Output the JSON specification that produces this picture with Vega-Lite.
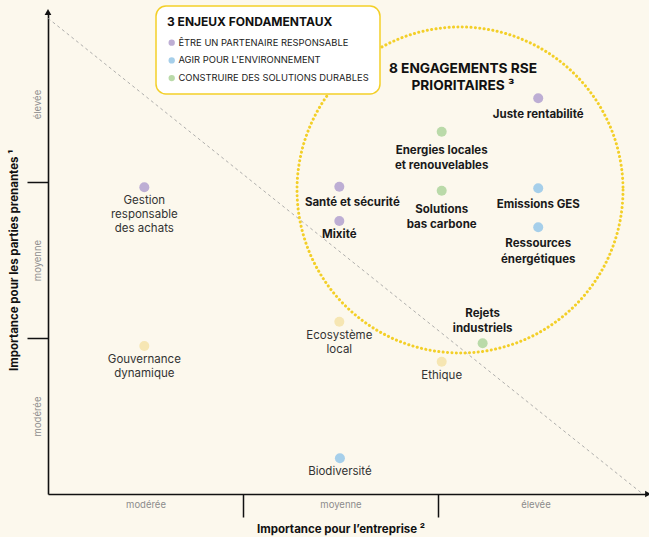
{
  "$schema": "https://vega.github.io/schema/vega-lite/v6.json",
  "width": 600,
  "height": 482,
  "autosize": {"type": "none"},
  "padding": {"left": 48, "top": 12, "right": 1, "bottom": 43},
  "background": "#fcf8ed",
  "config": {
    "view": {"stroke": null},
    "font": "Inter",
    "legend": {"strokeColor": "#f3cf28", "strokeWidth": 1.5, "fillColor": "#ffffff", "cornerRadius": 10, "padding": 11}
  },
  "datasets": {
    "main": [
      {"label": "Juste rentabilité", "x": 2.514, "y": 2.537, "enjeu": "ÊTRE UN PARTENAIRE RESPONSABLE", "prioritaire": true},
      {"label": "Energies locales\net renouvelables", "x": 2.019, "y": 2.322, "enjeu": "CONSTRUIRE DES SOLUTIONS DURABLES", "prioritaire": true},
      {"label": "Santé et sécurité", "x": 1.494, "y": 1.97, "enjeu": "ÊTRE UN PARTENAIRE RESPONSABLE", "prioritaire": true},
      {"label": "Solutions\nbas carbone", "x": 2.019, "y": 1.944, "enjeu": "CONSTRUIRE DES SOLUTIONS DURABLES", "prioritaire": true},
      {"label": "Emissions GES", "x": 2.514, "y": 1.96, "enjeu": "AGIR POUR L'ENVIRONNEMENT", "prioritaire": true},
      {"label": "Mixité", "x": 1.494, "y": 1.75, "enjeu": "ÊTRE UN PARTENAIRE RESPONSABLE", "prioritaire": true},
      {"label": "Ressources\nénergétiques", "x": 2.514, "y": 1.71, "enjeu": "AGIR POUR L'ENVIRONNEMENT", "prioritaire": true},
      {"label": "Rejets\nindustriels", "x": 2.229, "y": 0.966, "enjeu": "CONSTRUIRE DES SOLUTIONS DURABLES", "prioritaire": true},
      {"label": "Gestion\nresponsable\ndes achats", "x": 0.494, "y": 1.966, "enjeu": "ÊTRE UN PARTENAIRE RESPONSABLE", "prioritaire": false},
      {"label": "Gouvernance\ndynamique", "x": 0.494, "y": 0.949, "enjeu": "AUTRE", "prioritaire": false},
      {"label": "Ecosystème\nlocal", "x": 1.494, "y": 1.104, "enjeu": "AUTRE", "prioritaire": false},
      {"label": "Ethique", "x": 2.019, "y": 0.848, "enjeu": "AUTRE", "prioritaire": false},
      {"label": "Biodiversité", "x": 1.497, "y": 0.229, "enjeu": "AGIR POUR L'ENVIRONNEMENT", "prioritaire": false}
    ],
    "diag": [{"x": 0, "y": 3.05}, {"x": 3.05, "y": 0}],
    "circle": [{"x": 2.113, "y": 1.949}],
    "titre": [{"x": 2.128, "y": 2.77, "text": "8 ENGAGEMENTS RSE\nPRIORITAIRES ³"}],
    "flecheX": [{"x": 3.077, "y": 0}],
    "flecheY": [{"x": 0, "y": 3.09}]
  },
  "encoding": {
    "x": {
      "field": "x", "type": "quantitative",
      "scale": {"domain": [0, 3.077], "nice": false, "zero": false},
      "axis": {
        "values": [0.5, 1, 1.5, 2, 2.5],
        "title": "Importance pour l’entreprise ²",
        "grid": false,
        "domainColor": "#111111", "domainWidth": 1.6,
        "tickColor": "#111111", "tickWidth": 1.5, "tickSize": 23,
        "tickOpacity": {"condition": {"test": "datum.value % 1 === 0", "value": 1}, "value": 0},
        "labelExpr": "datum.value === 0.5 ? 'modérée' : datum.value === 1.5 ? 'moyenne' : datum.value === 2.5 ? 'élevée' : ''",
        "labelFont": "Inter", "labelFontSize": 9.5, "labelColor": "#8c8c8c",
        "labelPadding": -18, "labelFlush": false, "labelOverlap": false,
        "titleFont": "Inter", "titleFontSize": 11.5, "titleFontWeight": "bold", "titleColor": "#111111",
        "titlePadding": 6, "titleX": 292.5
      }
    },
    "y": {
      "field": "y", "type": "quantitative",
      "scale": {"domain": [0, 3.09], "nice": false, "zero": false},
      "axis": {
        "values": [0.5, 1, 1.5, 2, 2.5],
        "title": "Importance pour les parties prenantes ¹",
        "grid": false,
        "domainColor": "#111111", "domainWidth": 1.6,
        "tickColor": "#111111", "tickWidth": 1.5, "tickSize": 21,
        "tickOpacity": {"condition": {"test": "datum.value % 1 === 0", "value": 1}, "value": 0},
        "labelExpr": "datum.value === 0.5 ? 'modérée' : datum.value === 1.5 ? 'moyenne' : datum.value === 2.5 ? 'élevée' : ''",
        "labelAngle": -90,
        "labelFont": "Inter", "labelFontSize": 9.5, "labelColor": "#8c8c8c",
        "labelPadding": -15, "labelFlush": false, "labelOverlap": false,
        "titleFont": "Inter", "titleFontSize": 11.5, "titleFontWeight": "bold", "titleColor": "#111111",
        "titlePadding": 7, "titleY": 248
      }
    }
  },
  "layer": [
    {
      "data": {"name": "diag"},
      "mark": {"type": "line", "color": "#9a9a9a", "strokeWidth": 0.8, "strokeDash": [3, 3]},
      "encoding": {}
    },
    {
      "data": {"name": "circle"},
      "mark": {"type": "point", "shape": "circle", "filled": false, "size": 106276, "stroke": "#f3cf28", "strokeWidth": 3, "strokeDash": [0.1, 4.3], "strokeCap": "round", "opacity": 1},
      "encoding": {}
    },
    {
      "data": {"name": "main"},
      "mark": {"type": "point", "shape": "circle", "filled": true, "size": 100, "opacity": 1},
      "encoding": {
        "color": {
          "field": "enjeu", "type": "nominal",
          "scale": {
            "domain": ["ÊTRE UN PARTENAIRE RESPONSABLE", "AGIR POUR L'ENVIRONNEMENT", "CONSTRUIRE DES SOLUTIONS DURABLES", "AUTRE"],
            "range": ["#bdaed4", "#a6cfea", "#badaa9", "#f6e6b3"]
          },
          "legend": {
            "values": ["ÊTRE UN PARTENAIRE RESPONSABLE", "AGIR POUR L'ENVIRONNEMENT", "CONSTRUIRE DES SOLUTIONS DURABLES"],
            "title": "3 ENJEUX FONDAMENTAUX",
            "orient": "none", "legendX": 108, "legendY": -6,
            "fillColor": "#ffffff", "strokeColor": "#f3cf28", "cornerRadius": 10,
            "padding": 11,
            "titleFont": "Inter", "titleFontSize": 12, "titleFontWeight": "bold", "titleColor": "#111111", "titlePadding": 9,
            "labelFont": "Inter", "labelFontSize": 9.4, "labelColor": "#222222", "labelOffset": 2, "labelLimit": 400,
            "symbolType": "circle", "symbolSize": 40, "symbolStrokeWidth": 0, "symbolOpacity": 1,
            "rowPadding": 6.7
          }
        }
      }
    },
    {
      "data": {"name": "main"},
      "transform": [{"filter": "!datum.prioritaire"}],
      "mark": {"type": "text", "baseline": "top", "align": "center", "dy": 8, "fontSize": 11.5, "font": "Inter", "color": "#333333", "lineBreak": "\n", "lineHeight": 14},
      "encoding": {"text": {"field": "label"}}
    },
    {
      "data": {"name": "main"},
      "transform": [{"filter": "datum.prioritaire && indexof(['Rejets\\nindustriels', 'Santé et sécurité', 'Mixité', 'Energies locales\\net renouvelables', 'Solutions\\nbas carbone'], datum.label) < 0"}],
      "mark": {"type": "text", "baseline": "top", "align": "center", "dy": 11, "fontSize": 11.5, "fontWeight": "bold", "font": "Inter", "color": "#1a1a1a", "lineBreak": "\n", "lineHeight": 15.3},
      "encoding": {"text": {"field": "label"}}
    },
    {
      "data": {"name": "main"},
      "transform": [{"filter": "indexof(['Energies locales\\net renouvelables', 'Solutions\\nbas carbone'], datum.label) >= 0"}],
      "mark": {"type": "text", "baseline": "top", "align": "center", "dy": 13, "fontSize": 11.5, "fontWeight": "bold", "font": "Inter", "color": "#1a1a1a", "lineBreak": "\n", "lineHeight": 15.3},
      "encoding": {"text": {"field": "label"}}
    },
    {
      "data": {"name": "main"},
      "transform": [{"filter": "datum.label === 'Mixité'"}],
      "mark": {"type": "text", "baseline": "top", "align": "center", "dy": 8, "fontSize": 11.5, "fontWeight": "bold", "font": "Inter", "color": "#1a1a1a"},
      "encoding": {"text": {"field": "label"}}
    },
    {
      "data": {"name": "main"},
      "transform": [{"filter": "datum.label === 'Santé et sécurité'"}],
      "mark": {"type": "text", "baseline": "top", "align": "center", "dx": 13, "dy": 10, "fontSize": 11.5, "fontWeight": "bold", "font": "Inter", "color": "#1a1a1a"},
      "encoding": {"text": {"field": "label"}}
    },
    {
      "data": {"name": "main"},
      "transform": [{"filter": "datum.label === 'Rejets\\nindustriels'"}],
      "mark": {"type": "text", "baseline": "bottom", "align": "center", "dy": -24.5, "fontSize": 11.5, "fontWeight": "bold", "font": "Inter", "color": "#1a1a1a", "lineBreak": "\n", "lineHeight": 15.3},
      "encoding": {"text": {"field": "label"}}
    },
    {
      "data": {"name": "titre"},
      "mark": {"type": "text", "baseline": "top", "align": "center", "fontSize": 13.7, "fontWeight": "bold", "font": "Inter", "color": "#111111", "lineBreak": "\n", "lineHeight": 16.7},
      "encoding": {"text": {"field": "text"}}
    },
    {
      "data": {"name": "flecheX"},
      "mark": {"type": "point", "shape": "triangle-right", "filled": true, "size": 45, "color": "#111111", "opacity": 1, "dx": -3.5},
      "encoding": {}
    },
    {
      "data": {"name": "flecheY"},
      "mark": {"type": "point", "shape": "triangle-up", "filled": true, "size": 45, "color": "#111111", "opacity": 1, "dy": 3.5},
      "encoding": {}
    }
  ]
}
